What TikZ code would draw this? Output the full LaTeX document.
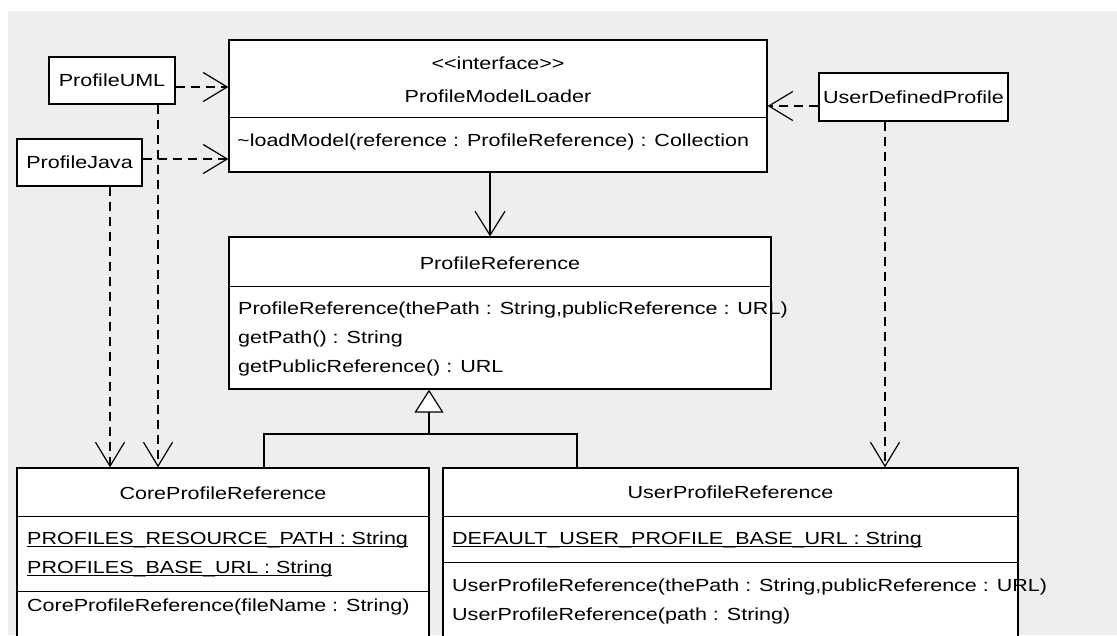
\documentclass[tikz,border=0pt]{standalone}
\usepackage{fontspec}
\newfontfamily\umlfont[FakeStretch=1.23]{Liberation Sans}
\usetikzlibrary{arrows.meta}
\definecolor{canvasgrey}{HTML}{EEEEEE}
\newcommand{\staticattr}[1]{\setbox0=\hbox{#1}\rlap{\rule[-2.6pt]{\wd0}{1.1pt}}\box0}

\begin{document}
\begin{tikzpicture}[
    x=1pt, y=-1pt,
    font=\umlfont\fontsize{17.5}{29}\selectfont,
    classbox/.style={rectangle, draw, line width=1.3pt, fill=white, inner sep=0pt},
    txt/.style={inner sep=0pt},
    ops/.style={inner sep=0pt, anchor=west, align=left},
    depend/.style={line width=1.2pt, dash pattern=on 9pt off 6pt, -{Straight Barb[length=24pt,width=29pt]}},
    assoc/.style={line width=1.2pt, -{Straight Barb[length=24pt,width=30pt]}},
    inherit/.style={line width=1.2pt}
  ]
  \useasboundingbox (0,0) rectangle (1117,635);
  \clip (0,0) rectangle (1117,635);
  \fill[canvasgrey] (8,11) rectangle (1117,635);

  % Interface and its implementations
  \node[classbox, minimum width=538pt, minimum height=132pt] (loader) at (498,106) {};
  \draw[line width=1.3pt] ([yshift=-78pt]loader.north west) -- ([yshift=-78pt]loader.north east);
  \node[txt] (loaderstereo) at (498,63) {<<interface>>};
  \node[txt] (loadername) at (498,96) {ProfileModelLoader};
  \node[ops] (loaderops) at (237,142) {\textasciitilde loadModel(reference : ProfileReference) : Collection};

  \node[classbox, minimum width=126pt, minimum height=47pt] (uml) at (112,80.5) {ProfileUML};
  \node[classbox, minimum width=125pt, minimum height=47pt] (java) at (79.5,162.5) {ProfileJava};
  \node[classbox, minimum width=189pt, minimum height=48pt] (udp) at (913.5,97) {UserDefinedProfile};

  % ProfileReference
  \node[classbox, minimum width=542pt, minimum height=152pt] (pref) at (500,313) {};
  \draw[line width=1.3pt] ([yshift=-50pt]pref.north west) -- ([yshift=-50pt]pref.north east);
  \node[txt] (preftitle) at (500,263) {ProfileReference};
  \node[ops] (prefops) at (238,339) {ProfileReference(thePath : String,publicReference : URL)\\getPath() : String\\getPublicReference() : URL};

  % Subclasses
  \node[classbox, minimum width=412pt, minimum height=250pt] (core) at (223,593) {};
  \draw[line width=1.3pt] ([yshift=-49pt]core.north west) -- ([yshift=-49pt]core.north east);
  \draw[line width=1.3pt] ([yshift=-124pt]core.north west) -- ([yshift=-124pt]core.north east);
  \node[txt] (coretitle) at (223,493) {CoreProfileReference};
  \node[ops] (coreattrs) at (27,554) {\staticattr{PROFILES\_RESOURCE\_PATH : String}\\\staticattr{PROFILES\_BASE\_URL : String}};
  \node[ops] (coreops) at (27,607) {CoreProfileReference(fileName : String)};

  \node[classbox, minimum width=575pt, minimum height=250pt] (user) at (730.5,593) {};
  \draw[line width=1.3pt] ([yshift=-49pt]user.north west) -- ([yshift=-49pt]user.north east);
  \draw[line width=1.3pt] ([yshift=-95pt]user.north west) -- ([yshift=-95pt]user.north east);
  \node[txt] (usertitle) at (730.5,492) {UserProfileReference};
  \node[ops] (userattrs) at (452,540) {\staticattr{DEFAULT\_USER\_PROFILE\_BASE\_URL : String}};
  \node[ops] (userops) at (452,601) {UserProfileReference(thePath : String,publicReference : URL)\\UserProfileReference(path : String)};

  % Dependencies
  \coordinate (umlout) at ([yshift=-6.5pt]uml.east);
  \coordinate (javaout) at ([yshift=3.5pt]java.east);
  \coordinate (udpout) at ([yshift=-9pt]udp.west);
  \draw[depend] (umlout) -- (umlout -| loader.west);
  \draw[depend] (javaout) -- (javaout -| loader.west);
  \draw[depend] (udpout) -- (udpout -| loader.east);
  \coordinate (javadown) at ([xshift=30.5pt]java.south);
  \coordinate (umldown) at ([xshift=46pt]uml.south);
  \coordinate (udpdown) at ([xshift=-28.5pt]udp.south);
  \draw[depend] (javadown) -- (javadown |- core.north);
  \draw[depend] (umldown) -- (umldown |- core.north);
  \draw[depend] (udpdown) -- (udpdown |- user.north);

  % Association
  \coordinate (loaderdown) at ([xshift=-8pt]loader.south);
  \draw[assoc] (loaderdown) -- (loaderdown |- pref.north);

  % Generalization
  \coordinate (split) at (429,434);
  \draw[inherit, -{Triangle[length=23pt,width=29pt,fill=white]}] (split) -- (split |- pref.south);
  \draw[inherit] ([xshift=41pt]core.north) |- (split);
  \draw[inherit] ([xshift=-153.5pt]user.north) |- (split);
\end{tikzpicture}
\end{document}
